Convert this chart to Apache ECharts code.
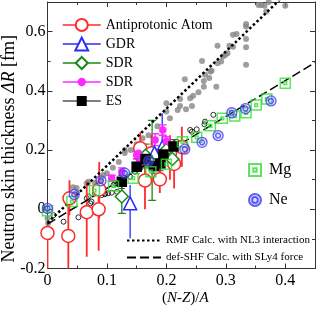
<!DOCTYPE html>
<html><head><meta charset="utf-8">
<script src="https://cdn.jsdelivr.net/npm/echarts@6/dist/echarts.min.js"></script>
<style>html,body{margin:0;padding:0;background:#fff}#c{width:316px;height:310px}</style>
</head><body><div id="c"></div>
<script>
// ---- data ----
const xTicks = [0, 0.1, 0.2, 0.3, 0.4];
const yTicks = [-0.2, 0, 0.2, 0.4, 0.6];

// Antiprotonic atom
const antiX  = [0.0, 0.035, 0.037, 0.066, 0.086, 0.087, 0.164, 0.156, 0.175, 0.189, 0.206, 0.213, 0.226];
const antiY  = [-0.08, -0.09, 0.037, -0.01, 0.0, 0.067, 0.097, 0.206, 0.189, 0.101, 0.189, 0.153, 0.21];
const antiLo = [-0.25, -0.25, -0.02, -0.16, -0.14, -0.03, 0.0, 0.15, 0.13, 0.055, 0.10, 0.07, 0.144];
const antiHi = [-0.06, 0.045, 0.098, 0.095, 0.10, 0.16, 0.20, 0.26, 0.25, 0.15, 0.25, 0.23, 0.279];

// GDR
const gdrX  = [0.139, 0.193, 0.18];
const gdrY  = [0.02, 0.21, 0.19];
const gdrLo = [-0.098, 0.144, 0.16];
const gdrHi = [0.082, 0.324, 0.22];

// SDR (green diamonds)
const sdrX  = [0.125, 0.165, 0.176, 0.2, 0.21];
const sdrY  = [0.043, 0.181, 0.155, 0.2, 0.17];
const sdrLo = [-0.014, 0.14, 0.03, 0.17, 0.14];
const sdrHi = [0.093, 0.22, 0.30, 0.23, 0.2];

// SDR (magenta)
const sdr2X  = [0.108, 0.125, 0.153, 0.155, 0.15, 0.181, 0.194, 0.2];
const sdr2Y  = [0.105, 0.127, 0.189, 0.16, 0.183, 0.234, 0.268, 0.23];
const sdr2Lo = [0.095, 0.115, 0.175, 0.15, 0.17, 0.215, 0.25, 0.215];
const sdr2Hi = [0.115, 0.14, 0.2, 0.17, 0.195, 0.255, 0.285, 0.245];

// ES
const esX  = [0.125, 0.15, 0.165, 0.179, 0.19, 0.195, 0.212];
const esY  = [0.093, 0.144, 0.17, 0.146, 0.155, 0.185, 0.212];
const esLo = [0.07, 0.12, 0.15, 0.12, 0.13, 0.16, 0.19];
const esHi = [0.115, 0.17, 0.19, 0.17, 0.18, 0.21, 0.235];

// Mg
const mgX = [0.0, 0.041, 0.079, 0.111, 0.144, 0.174, 0.2, 0.227, 0.251, 0.274, 0.294, 0.315, 0.334, 0.351, 0.369, 0.4];
const mgY = [-0.005, 0.026, 0.063, 0.079, 0.105, 0.127, 0.152, 0.228, 0.243, 0.282, 0.307, 0.315, 0.326, 0.352, 0.372, 0.426];

// Ne
const neX = [0.0, 0.045, 0.09, 0.13, 0.17, 0.231, 0.26, 0.287, 0.31, 0.333, 0.376];
const neY = [0.003, 0.05, 0.096, 0.122, 0.163, 0.203, 0.226, 0.249, 0.326, 0.34, 0.366];

// grey dots
const greyX = [0.355, 0.36, 0.365, 0.40, 0.372, 0.368, 0.334, 0.334, 0.318, 0.312, 0.334, 0.286, 0.306, 0.312, 0.334, 0.303, 0.299, 0.295, 0.26, 0.292, 0.286, 0.334, 0.276, 0.274, 0.265, 0.231, 0.272, 0.263, 0.263, 0.284, 0.254, 0.245, 0.24, 0.223, 0.2, 0.223, 0.243, 0.233, 0.219, 0.2, 0.206,
  0.13, 0.13, 0.094, 0.1, 0.049, 0.043, 0.049, 0.046, 0.032, 0.069, 0.066, 0.001, 0.001, 0.0, 0.11, 0.12, 0.15, 0.16, 0.17, 0.185, 0.14, 0.09, 0.08];
const greyY = [0.69, 0.69, 0.687, 0.687, 0.70, 0.668, 0.626, 0.617, 0.592, 0.589, 0.575, 0.552, 0.552, 0.549, 0.547, 0.527, 0.521, 0.516, 0.501, 0.499, 0.493, 0.488, 0.468, 0.465, 0.454, 0.439, 0.443, 0.433, 0.414, 0.414, 0.395, 0.383, 0.375, 0.372, 0.358, 0.349, 0.349, 0.338, 0.335, 0.33, 0.307,
  0.19, 0.2, 0.116, 0.122, 0.072, 0.074, 0.054, 0.043, 0.037, 0.093, 0.088, -0.047, -0.076, -0.03, 0.14, 0.16, 0.22, 0.24, 0.25, 0.28, 0.2, 0.1, 0.09];

// small open circles
const ocX = [0.279, 0.265, 0.264, 0.251, 0.24, 0.243, 0.2175, 0.052, 0.027, 0.072, 0.074, 0.091, 0.096, 0.102, 0.108, 0.117, 0.069, 0.066, 0.08, 0.086, 0.094, 0.097, 0.111, 0.114, 0.122, 0.139, 0.147, 0.156, 0.164, 0.17, 0.01];
const ocY = [0.319, 0.296, 0.287, 0.27, 0.268, 0.262, 0.228, -0.027, -0.042, 0.02, 0.026, 0.048, 0.052, 0.054, 0.056, 0.059, 0.043, 0.037, 0.054, 0.059, 0.065, 0.052, 0.082, 0.088, 0.093, 0.11, 0.127, 0.139, 0.15, 0.155, -0.02];

// calculation lines
const rmfX = [0.0, 0.45];
const rmfY = [-0.046, 0.822];
const shfX = [0.0, 0.45];
const shfY = [-0.05, 0.495];

// ---- helpers ----
const zip = (...a) => a[0].map((_, i) => a.map(v => v[i]));
const FONT = '"Liberation Serif","Times New Roman",serif';

function errBars(x, lo, hi, color, width, cap) {
  return {
    type: 'custom', silent: true, clip: true, z: 3,
    encode: { x: 0, y: [1, 2] },
    data: zip(x, lo, hi),
    renderItem: function (p, api) {
      const a = api.coord([api.value(0), api.value(1)]);
      const b = api.coord([api.value(0), api.value(2)]);
      const ch = [{ type: 'line', shape: { x1: a[0], y1: a[1], x2: b[0], y2: b[1] }, style: { stroke: color, lineWidth: width } }];
      if (cap) {
        ch.push({ type: 'line', shape: { x1: a[0] - cap, y1: a[1], x2: a[0] + cap, y2: a[1] }, style: { stroke: color, lineWidth: width } });
        ch.push({ type: 'line', shape: { x1: b[0] - cap, y1: b[1], x2: b[0] + cap, y2: b[1] }, style: { stroke: color, lineWidth: width } });
      }
      return { type: 'group', children: ch };
    }
  };
}

function markSeries(name, x, y, symbol, size, color, fill) {
  return {
    name: name, type: 'line', data: zip(x, y), z: 5,
    symbol: symbol, symbolSize: size, showSymbol: true,
    lineStyle: { width: 0, opacity: 0 },
    itemStyle: { color: fill, borderColor: color, borderWidth: 1.5 },
    emphasis: { disabled: true }, animation: false
  };
}

const COL = { anti: '#ff2a2a', gdr: '#2a2aff', sdr: '#1a8a1a', sdr2: '#ff2aff', es: '#000000', mg: '#33dd33', ne: '#3a3aee', grey: '#868686' };

const axisCommon = {
  axisLine: { show: true, onZero: false, lineStyle: { color: '#333', width: 1 } },
  axisTick: { show: true, inside: true, length: 5, lineStyle: { color: '#333' } },
  minorTick: { show: true, splitNumber: 2, length: 3, lineStyle: { color: '#333' } },
  splitLine: { show: false }
};

function legendOne(name, color, center, h) {
  return {
    orient: 'vertical', left: 62, top: center - 7, itemWidth: 38, itemHeight: h, padding: 0,
    textStyle: { fontFamily: FONT, fontSize: 14, color: '#000', lineHeight: 16 },
    formatter: n => n.trim(), selectedMode: false,
    data: [{ name: name, lineStyle: { width: 1.5, color: color, opacity: 1 } }]
  };
}

const chart = echarts.init(document.getElementById('c'), null, { renderer: 'canvas', width: 316, height: 310 });
chart.setOption({
  animation: false,
  backgroundColor: '#fff',
  textStyle: { fontFamily: FONT, color: '#000' },
  grid: { left: 47.5, right: 1, top: 2, bottom: 41.5, containLabel: false, outerBoundsMode: 'none' },
  xAxis: [
    Object.assign({
      type: 'value', min: 0, max: 0.45, interval: 0.1, position: 'bottom',
      name: '{p|(}{i|N}-{i|Z})/{i|A}', nameLocation: 'middle', nameGap: 22, nameMoveOverlap: false,
      nameTextStyle: { fontFamily: FONT, fontSize: 15, color: '#000',
        rich: { i: { fontFamily: FONT, fontStyle: 'italic', fontSize: 15 }, p: { fontFamily: FONT, fontSize: 15, padding: [0, 0, 0, 8] } } },
      axisLabel: { fontFamily: FONT, fontSize: 16, color: '#000', margin: 4, showMaxLabel: false,
        formatter: v => (xTicks.indexOf(Math.round(v * 100) / 100) >= 0 ? String(Math.round(v * 10) / 10) : '') }
    }, axisCommon),
    Object.assign({
      type: 'value', min: 0, max: 0.45, interval: 0.1, position: 'top', axisLabel: { show: false }
    }, axisCommon)
  ],
  yAxis: [
    Object.assign({
      type: 'value', min: -0.2, max: 0.7, interval: 0.2, position: 'left',
      name: 'Neutron skin thickness {i|ΔR} [fm]{s|\u00a0\u00a0\u00a0\u00a0\u00a0\u00a0}', nameLocation: 'middle', nameGap: 29, nameMoveOverlap: false,
      nameTextStyle: { fontFamily: FONT, fontSize: 18, color: '#000',
        rich: { i: { fontFamily: FONT, fontStyle: 'italic', fontSize: 18 }, s: { fontFamily: FONT, fontSize: 18 } } },
      axisLabel: { fontFamily: FONT, fontSize: 16, color: '#000', margin: 2, showMaxLabel: false,
        formatter: v => { const r = Math.round(v * 10) / 10; return yTicks.indexOf(r) >= 0 ? String(r) : ''; } }
    }, axisCommon),
    Object.assign({
      type: 'value', min: -0.2, max: 0.7, interval: 0.2, position: 'right', axisLabel: { show: false }
    }, axisCommon)
  ],
  legend: [
    legendOne('Antiprotonic Atom', COL.anti, 24, 15),
    legendOne('GDR', COL.gdr, 43, 16),
    legendOne('SDR', COL.sdr, 62, 15),
    legendOne('SDR ', COL.sdr2, 81, 8),
    legendOne('ES', '#555', 100, 10),
    {
      orient: 'vertical', left: 248, top: 162, itemWidth: 12, itemHeight: 12, itemGap: 14, padding: 0,
      textStyle: { fontFamily: FONT, fontSize: 16, color: '#000', padding: [0, 0, 0, 3] },
      selectedMode: false, data: ['Mg', 'Ne']
    },
    {
      orient: 'vertical', left: 126, top: 235, itemWidth: 34, itemHeight: 10, itemGap: 6, padding: 0,
      textStyle: { fontFamily: FONT, fontSize: 11, color: '#000' },
      selectedMode: false,
      data: [
        { name: 'RMF Calc. with NL3 interaction', itemStyle: { opacity: 0 } },
        { name: 'def-SHF Calc. with SLy4 force', itemStyle: { opacity: 0 } }
      ]
    }
  ],
  series: [
    { type: 'scatter', data: zip(greyX, greyY), symbol: 'circle', symbolSize: 6, itemStyle: { color: COL.grey }, z: 1, silent: true },
    { type: 'scatter', data: zip(ocX, ocY), symbol: 'circle', symbolSize: 5, itemStyle: { color: 'rgba(255,255,255,0)', borderColor: '#000', borderWidth: 1 }, z: 2, silent: true },
    { name: 'RMF Calc. with NL3 interaction', type: 'line', data: zip(rmfX, rmfY), symbol: 'none', clip: true, z: 4,
      itemStyle: { color: '#000' }, lineStyle: { color: '#000', width: 2.5, type: [2.5, 2.5] } },
    { name: 'def-SHF Calc. with SLy4 force', type: 'line', data: zip(shfX, shfY), symbol: 'none', clip: true, z: 4,
      itemStyle: { color: '#000' }, lineStyle: { color: '#000', width: 1.5, type: [9, 4] } },
    errBars(antiX, antiLo, antiHi, COL.anti, 1.8, 0),
    errBars(gdrX, gdrLo, gdrHi, COL.gdr, 1.3, 0),
    errBars(sdrX, sdrLo, sdrHi, COL.sdr, 1.3, 4),
    errBars(sdr2X, sdr2Lo, sdr2Hi, COL.sdr2, 1.3, 4),
    errBars(esX, esLo, esHi, '#444', 1, 3),
    markSeries('Antiprotonic Atom', antiX, antiY, 'circle', 13, COL.anti, '#fff'),
    markSeries('GDR', gdrX, gdrY, 'triangle', 13, COL.gdr, '#fff'),
    markSeries('SDR', sdrX, sdrY, 'diamond', 13, COL.sdr, '#fff'),
    markSeries('SDR ', sdr2X, sdr2Y, 'circle', 6, COL.sdr2, COL.sdr2),
    markSeries('ES', esX, esY, 'rect', 9, '#000', '#000'),
    { name: 'Mg', type: 'scatter', data: zip(mgX, mgY), z: 6,
      symbol: 'path://M0,0H10V10H0Z M3.6,3.6H6.4V6.4H3.6Z', symbolSize: 10,
      itemStyle: { color: 'rgba(255,255,255,0)', borderColor: COL.mg, borderWidth: 1.5 } },
    { name: 'Ne', type: 'scatter', data: zip(neX, neY), z: 6,
      symbol: 'path://M5,0A5,5 0 1,1 4.99,0Z M5,2.6A2.4,2.4 0 1,1 4.99,2.6Z', symbolSize: 10,
      itemStyle: { color: 'rgba(140,140,255,0.35)', borderColor: COL.ne, borderWidth: 1.3 } }
  ]
});
</script>
</body></html>
